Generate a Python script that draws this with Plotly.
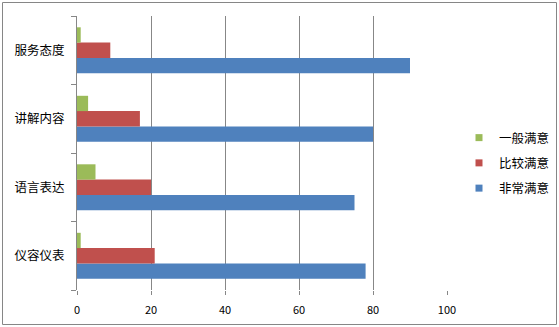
import plotly.graph_objects as go

categories = ["仪容仪表", "语言表达", "讲解内容", "服务态度"]
very_satisfied = [78, 75, 80, 90]      # 非常满意
fairly_satisfied = [21, 20, 17, 9]     # 比较满意
generally_satisfied = [1, 5, 3, 1]     # 一般满意
x_ticks = [0, 20, 40, 60, 80, 100]

series = [
    ("非常满意", very_satisfied, "#4F81BD", 3),
    ("比较满意", fairly_satisfied, "#C0504D", 2),
    ("一般满意", generally_satisfied, "#9BBB59", 1),
]

FONT = "Noto Sans CJK SC"
W, H = 559, 327
ML, MR, MT, MB = 77, 112, 16, 37

fig = go.Figure()
for name, vals, color, rank in series:
    fig.add_trace(go.Bar(y=categories, x=vals, name=name, orientation="h",
                         marker=dict(color=color, line=dict(width=0)),
                         showlegend=False))
for name, vals, color, rank in series:
    fig.add_trace(go.Scatter(x=[None], y=[None], mode="markers", name=name,
                             marker=dict(symbol="square", size=7, color=color),
                             legendgroup=name, legendrank=rank, showlegend=True))

pw = W - ML - MR
ph = H - MT - MB
fig.add_shape(type="rect", xref="paper", yref="paper",
              x0=(2.5 - ML) / pw, x1=(556.5 - ML) / pw,
              y0=(H - MB - 324.5) / ph, y1=(H - MB - 2.5) / ph,
              line=dict(color="#868686", width=1), fillcolor="rgba(0,0,0,0)", layer="below")

fig.update_layout(
    width=W, height=H,
    margin=dict(l=ML, r=MR, t=MT, b=MB, autoexpand=False),
    paper_bgcolor="white", plot_bgcolor="white",
    barmode="group", bargap=0.33, bargroupgap=0,
    font=dict(family=FONT, size=12, color="black"),
    xaxis=dict(range=[0, 100], tickvals=x_ticks, showgrid=True, gridcolor="#878787",
               gridwidth=1, zeroline=False, showline=False, ticks="outside",
               ticklen=4, tickcolor="#878787", tickfont=dict(size=11, family=FONT),
               ticklabelstandoff=6, fixedrange=True),
    yaxis=dict(type="category", categoryorder="array", categoryarray=categories,
               showline=True, linecolor="#878787", linewidth=1, ticks="outside",
               tickson="boundaries", ticklen=5, tickcolor="#878787",
               showgrid=False, ticklabelstandoff=9, tickfont=dict(size=12.5, family=FONT)),
    legend=dict(xref="container", yref="container", x=459 / W, xanchor="left",
                y=1 - 163 / H, yanchor="middle",
                traceorder="grouped", tracegroupgap=6,
                font=dict(size=12.5, family=FONT), bgcolor="rgba(0,0,0,0)"),
)

fig.write_html("out.html")
